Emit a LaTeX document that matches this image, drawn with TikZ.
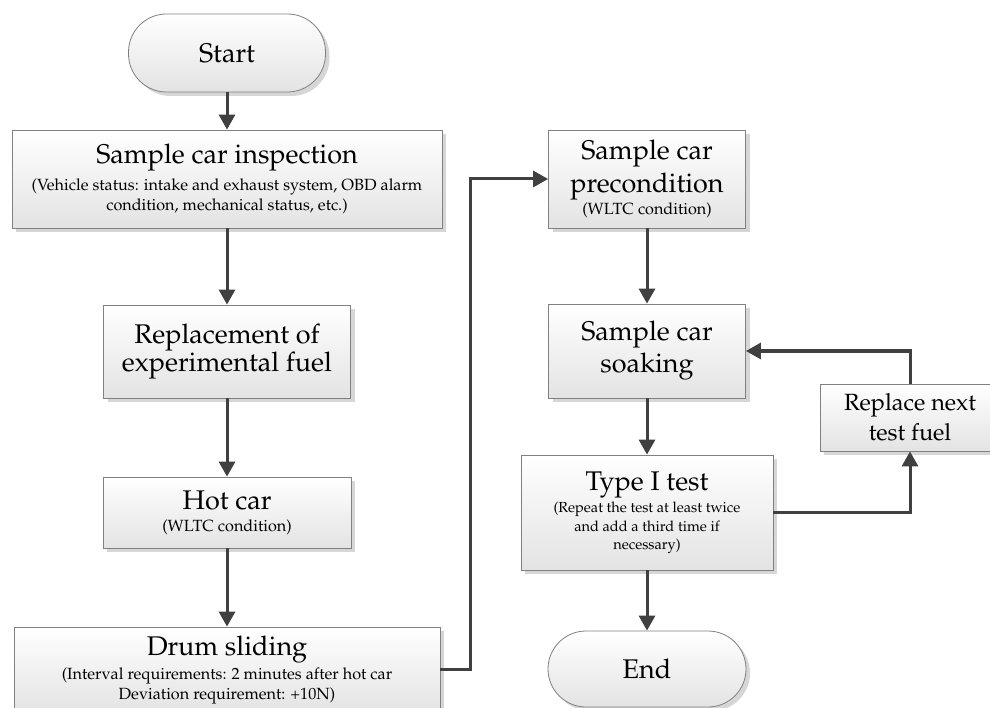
\documentclass[tikz,border=0pt]{standalone}
\usepackage[T1]{fontenc}
\usepackage{mathpazo}
\usepackage{tikz}
\usetikzlibrary{arrows.meta,shadows}

\definecolor{linegray}{HTML}{404040}
\definecolor{edgegray}{HTML}{808080}
\definecolor{fillgray}{HTML}{E3E3E3}
\definecolor{shadegray}{HTML}{D6D6D6}

\newcommand{\ttl}{\fontsize{27}{28}\selectfont}
\newcommand{\smalltxt}{\fontsize{16.2}{20}\selectfont}

\tikzset{
  procbox/.style={draw=edgegray, line width=0.8pt, top color=white, bottom color=fillgray,
    drop shadow={shadow xshift=4pt, shadow yshift=-4pt, fill=shadegray, opacity=1},
    align=center, inner sep=0pt},
  termbox/.style={procbox, rounded corners=38pt},
  flow/.style={draw=linegray, line width=3pt, -{Triangle[length=15pt,width=16pt]}}
}

\begin{document}
\begin{tikzpicture}[x=1pt,y=-1pt]
\useasboundingbox (0,0) rectangle (990,708);
\node[termbox, minimum width=197pt, minimum height=78pt, font=\ttl] (start) at (227,53) {Start};
\node[procbox, minimum width=430pt, minimum height=98pt, font=\smalltxt] (inspect) at (227,179)
  {{\ttl Sample car inspection}\\[7pt] (Vehicle status: intake and exhaust system, OBD alarm\\ condition, mechanical status, etc.)};
\node[procbox, minimum width=247pt, minimum height=93pt, font=\ttl] (fuel) at (227,351.5)
  {Replacement of\\ experimental fuel};
\node[procbox, minimum width=248pt, minimum height=71pt, font=\smalltxt] (hot) at (227,512.5)
  {{\ttl Hot car}\\[2pt] (WLTC condition)};
\node[procbox, minimum width=426pt, minimum height=86pt, font=\smalltxt] (drum) at (227,670)
  {{\ttl Drum sliding}\\[4pt] (Interval requirements: 2 minutes after hot car\\ Deviation requirement: +10N)};
\node[procbox, minimum width=197pt, minimum height=98pt, font=\smalltxt] (precond) at (647,179)
  {{\ttl Sample car}\\[4pt] {\ttl precondition}\\[2pt] (WLTC condition)};
\node[procbox, minimum width=197pt, minimum height=94pt, font=\ttl] (soak) at (647,351)
  {Sample car\\[4pt] soaking};
\node[procbox, minimum width=252pt, minimum height=115pt, font=\fontsize{14.6}{18.5}\selectfont] (typei) at (647,512.5)
  {{\ttl Type I test}\\[4pt] (Repeat the test at least twice\\ and add a third time if\\ necessary)};
\node[procbox, minimum width=180pt, minimum height=67pt, font=\fontsize{23.5}{30}\selectfont] (nextfuel) at (910,417.5)
  {Replace next\\ test fuel};
\node[termbox, minimum width=198pt, minimum height=76pt, font=\ttl] (end) at (647,669) {End};
\coordinate (jog) at (470,669);
\draw[flow] (start) -- (inspect);
\draw[flow] (inspect) -- (fuel);
\draw[flow] (fuel) -- (hot);
\draw[flow] (hot) -- (drum);
\draw[flow] (drum.east |- jog) -- (jog) |- (precond.west);
\draw[flow] (precond) -- (soak);
\draw[flow] (soak) -- (typei);
\draw[flow] (typei) -- (end);
\draw[flow] (typei.east) -| (nextfuel.south);
\draw[flow] (nextfuel.north) |- (soak.east);
\end{tikzpicture}
\end{document}
